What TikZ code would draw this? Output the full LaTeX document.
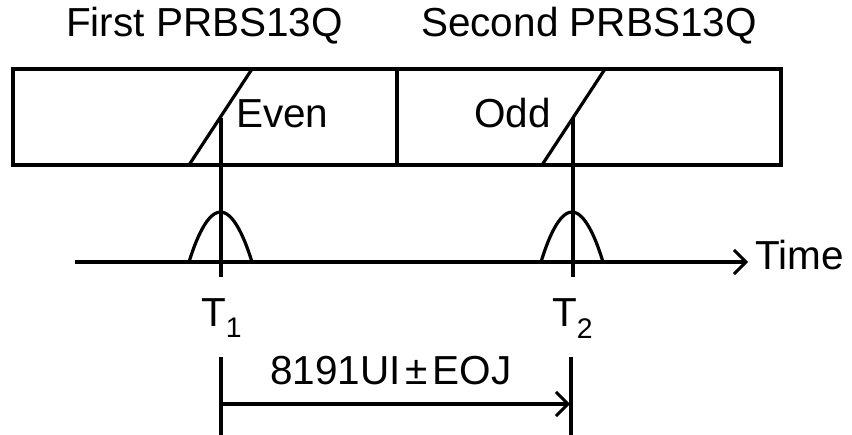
\documentclass[tikz,border=0pt]{standalone}
\usepackage{fontspec}
\setmainfont{Liberation Sans}
\usetikzlibrary{arrows.meta}
\begin{document}
\begin{tikzpicture}[x=1pt,y=-1pt,
  ln/.style={line width=3.2pt},
  lbl/.style={font=\fontsize{40.5}{46}\selectfont, inner sep=0pt, anchor=base west},
  tip/.style={-{Straight Barb[length=12pt,width=24pt,line width=3pt]}}]
\useasboundingbox (0,0) rectangle (852,435);
% texts
\node[lbl] (first) at (66,37) {First PRBS13Q};
\node[lbl] (second) at (421,37) {Second PRBS13Q};
\node[lbl] (even) at (236,128) {Even};
\node[lbl] (odd) at (474,128) {Odd};
\node[lbl] (time) at (755,270) {Time};
\node[lbl] (t1) at (201,327) {T\textsubscript{1}};
\node[lbl] (t2) at (552,327) {T\textsubscript{2}};
\node[lbl] (eoj) at (270,385) {8191UI\kern5pt±\kern5pt EOJ};
% box
\coordinate (bnw) at (13,69);
\coordinate (bse) at (781,165);
\draw[ln] (bnw) rectangle (bse);
\coordinate (dt) at (397,69);
\coordinate (db) at (397,165);
\draw[ln] (dt) -- (db);
% slants
\coordinate (s1b) at (189,165); \coordinate (s1t) at (252,69);
\coordinate (s2b) at (542,165); \coordinate (s2t) at (605,69);
\draw[ln] (s1b) -- (s1t);
\draw[ln] (s2b) -- (s2t);
% T lines
\coordinate (l1t) at (221,118); \coordinate (l1b) at (221,277);
\coordinate (l2t) at (573,118); \coordinate (l2b) at (573,277);
\draw[ln] (l1t) -- (l1b);
\draw[ln] (l2t) -- (l2b);
% axis
\coordinate (ax0) at (75,262);
\coordinate (ax1) at (748,262);
\draw[ln,tip] (ax0) -- (ax1);
% bumps
\coordinate (b1l) at (189,262); \coordinate (b1p) at (220.5,212); \coordinate (b1r) at (252,262);
\coordinate (b2l) at (541,262); \coordinate (b2p) at (572,212); \coordinate (b2r) at (603,262);
\draw[ln] (b1l) parabola bend (b1p) (b1r);
\draw[ln] (b2l) parabola bend (b2p) (b2r);
% bottom measure
\coordinate (m1t) at (221,357); \coordinate (m1b) at (221,435);
\coordinate (m2t) at (571,357); \coordinate (m2b) at (571,435);
\draw[ln] (m1t) -- (m1b);
\draw[ln] (m2t) -- (m2b);
\coordinate (a1) at (221,404); \coordinate (a2) at (570,404);
\draw[ln,tip] (a1) -- (a2);
\end{tikzpicture}
\end{document}
